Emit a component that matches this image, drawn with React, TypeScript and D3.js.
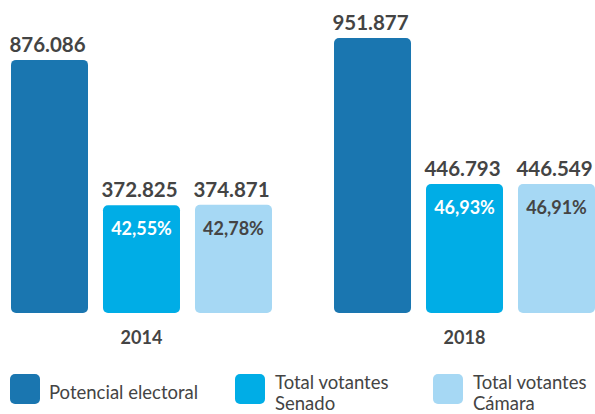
import React from "react";
import * as d3 from "d3";

const years = ["2014", "2018"];
const seriesKeys = ["potencial", "senado", "camara"];
const seriesLabels = [["Potencial electoral"], ["Total votantes", "Senado"], ["Total votantes", "Cámara"]];
const potencial = [876086, 951877];
const senado = [372825, 446793];
const camara = [374871, 446549];
const senadoPct = ["42,55%", "46,93%"];
const camaraPct = ["42,78%", "46,91%"];
const colors = ["#1a76b0", "#00ade6", "#a6d8f4"];

const fmt = (v: number) => d3.format(",")(v).replace(/,/g, ".");

export default function App() {
  const W = 595, H = 414;
  const x0 = d3.scaleBand().domain(years).range([11, 595]).paddingInner(0.192);
  const x1 = d3.scaleBand().domain(seriesKeys).range([0, x0.bandwidth()]).paddingInner(0.163);
  const y = d3.scaleLinear().domain([0, 951877]).range([313, 38]);
  const data = [potencial, senado, camara];
  const pcts = [null, senadoPct, camaraPct];
  const font = "Lato, 'Open Sans', sans-serif";
  const textColor = "#444444";
  const legendX = [10, 235, 433];
  return (
    <svg width={W} height={H} style={{ position: "absolute", left: 0, top: 0 }} fontFamily={font}>
      <rect width={W} height={H} fill="#fff" />
      {years.map((yr, gi) => {
        const gx = x0(yr)!;
        return (
          <g key={yr}>
            {seriesKeys.map((k, si) => {
              const v = data[si][gi];
              const bx = gx + x1(k)!;
              const bw = x1.bandwidth();
              const top = y(v);
              const p = pcts[si];
              return (
                <g key={k}>
                  <rect x={bx} y={top} width={bw} height={y(0) - top} rx={5} ry={5} fill={colors[si]} />
                  <text x={bx + bw / 2 - 2} y={top - 8} textAnchor="middle" fontWeight="bold" fontSize={20.5} fill={textColor}>
                    {fmt(v)}
                  </text>
                  {p && (
                    <text x={bx + bw / 2} y={top + 30} textAnchor="middle" fontWeight="bold" fontSize={18} fill={si === 1 ? "#ffffff" : textColor}>
                      {p[gi]}
                    </text>
                  )}
                </g>
              );
            })}
            <text x={gx + x1("senado")! + x1.bandwidth() / 2} y={344} textAnchor="middle" fontWeight="bold" fontSize={18} fill={textColor}>
              {yr}
            </text>
          </g>
        );
      })}
      {seriesLabels.map((lines, i) => (
        <g key={i}>
          <rect x={legendX[i]} y={374} width={30} height={30} rx={5} ry={5} fill={colors[i]} />
          {lines.length === 1 ? (
            <text x={legendX[i] + 39} y={399} fontSize={18.5} fill={textColor}>{lines[0]}</text>
          ) : (
            lines.map((l, li) => (
              <text key={li} x={legendX[i] + 40} y={389 + li * 21} fontSize={18.5} fill={textColor}>{l}</text>
            ))
          )}
        </g>
      ))}
    </svg>
  );
}
